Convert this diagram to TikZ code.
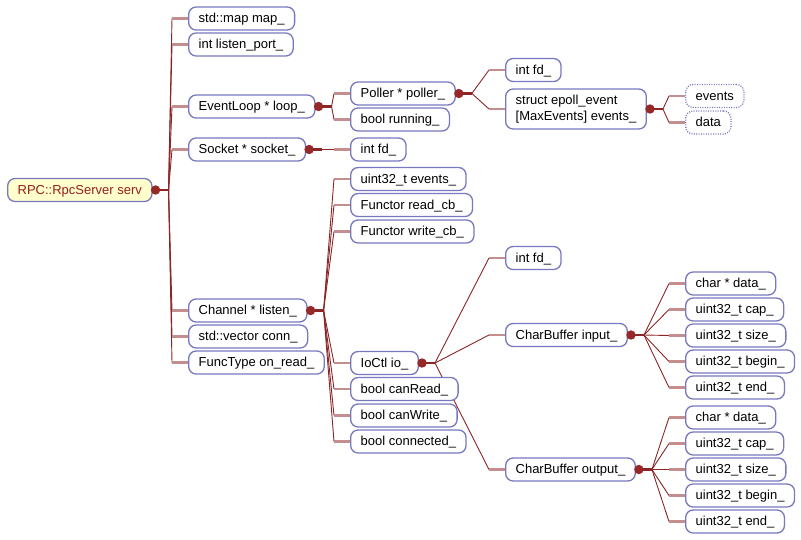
\documentclass[tikz,border=0pt]{standalone}
\usepackage{fontspec}
\setmainfont{Liberation Sans}
\pgfdeclarelayer{back}
\pgfdeclarelayer{bg}
\pgfsetlayers{back,bg,main}
\definecolor{boxc}{RGB}{120,120,192}
\definecolor{darkE}{RGB}{140,38,38}
\definecolor{pinkE}{RGB}{196,142,142}
\definecolor{dotc}{RGB}{150,40,40}
\definecolor{rootfill}{RGB}{255,255,206}
\definecolor{roottext}{RGB}{150,30,30}
\tikzset{
  box/.style={draw=boxc, line width=1.3pt, rounded corners=7.5pt, fill=white, anchor=west,
    minimum height=23pt, inner xsep=10pt, inner ysep=0pt, text=black,
    text height=10.5pt, text depth=2pt,
    font=\fontsize{13}{16}\selectfont},
  twoline/.style={box, text height=, text depth=, align=left, minimum height=40pt},
  rootbox/.style={box, fill=rootfill, text=roottext},
  dotbox/.style={box, dash pattern=on 1pt off 1.4pt},
  thickE/.style={draw=darkE, line width=2.6pt},
  thinE/.style={draw=darkE, line width=0.9pt},
  pinkE/.style={draw=pinkE, line width=2.4pt},
}
\newcommand\mmJunc[2]{%
  \coordinate (#2) at ([xshift=16pt]#1.east);
  \begin{pgfonlayer}{bg}\draw[thickE] ([xshift=3pt]#1.east) -- (#2);\end{pgfonlayer}
  \fill[dotc] ([xshift=3pt]#1.east) circle (4.7pt);}
\newcommand\mmBranch[2]{%
  \begin{pgfonlayer}{bg}
  \draw[thinE] (#1) -- ([xshift=-16pt]#2.west);
  \draw[pinkE] ([xshift=-16pt]#2.west) -- (#2.west);
  \end{pgfonlayer}}
\begin{document}
\begin{tikzpicture}[x=1pt,y=-1pt]
\begin{pgfonlayer}{back}
\fill[white] (0,0) rectangle (801,539);
\end{pgfonlayer}
\useasboundingbox (0,0) rectangle (801,539);
% root
\node[rootbox] (root) at (7,190) {RPC::RpcServer serv};
% level 1
\node[box] (m1) at (188,18.5) {std::map map\_};
\node[box] (m2) at (188,44.5) {int listen\_port\_};
\node[box] (m3) at (188,106.5) {EventLoop * loop\_};
\node[box] (m4) at (188,149.5) {Socket * socket\_};
\node[box] (m5) at (188,310.5) {Channel * listen\_};
\node[box] (m6) at (188,336.5) {std::vector conn\_};
\node[box] (m7) at (188,362.5) {FuncType on\_read\_};
% EventLoop children
\node[box] (el1) at (350,93.5) {Poller * poller\_};
\node[box] (el2) at (350,119.5) {bool running\_};
% Poller children
\node[box] (p1) at (505,70) {int fd\_};
\node[twoline] (p2) at (505,109) {struct epoll\_event\\{}[MaxEvents] events\_};
% epoll_event children
\node[dotbox] (e1) at (685,96) {events};
\node[dotbox] (e2) at (685,122.5) {data};
% Socket children
\node[box] (s1) at (350,149.5) {int fd\_};
% Channel children
\node[box] (c1) at (350,179) {uint32\_t events\_};
\node[box] (c2) at (350,205) {Functor read\_cb\_};
\node[box] (c3) at (350,231.5) {Functor write\_cb\_};
\node[box] (c4) at (350,363) {IoCtl io\_};
\node[box] (c5) at (350,389) {bool canRead\_};
\node[box] (c6) at (350,415.5) {bool canWrite\_};
\node[box] (c7) at (350,441.5) {bool connected\_};
% IoCtl children
\node[box] (io1) at (505,258) {int fd\_};
\node[box] (io2) at (505,335) {CharBuffer input\_};
\node[box] (io3) at (505,469.5) {CharBuffer output\_};
% input children
\node[box] (i1) at (685,283.5) {char * data\_};
\node[box] (i2) at (685,309.5) {uint32\_t cap\_};
\node[box] (i3) at (685,335.5) {uint32\_t size\_};
\node[box] (i4) at (685,361.5) {uint32\_t begin\_};
\node[box] (i5) at (685,387.5) {uint32\_t end\_};
% output children
\node[box] (o1) at (685,417.5) {char * data\_};
\node[box] (o2) at (685,443.5) {uint32\_t cap\_};
\node[box] (o3) at (685,469.5) {uint32\_t size\_};
\node[box] (o4) at (685,495.5) {uint32\_t begin\_};
\node[box] (o5) at (685,521.5) {uint32\_t end\_};
% connectors
\mmJunc{root}{jr}
\foreach \c in {m1,m2,m3,m4,m5,m6,m7} {\mmBranch{jr}{\c}}
\mmJunc{m3}{jm3}
\foreach \c in {el1,el2} {\mmBranch{jm3}{\c}}
\mmJunc{el1}{jp}
\foreach \c in {p1,p2} {\mmBranch{jp}{\c}}
\mmJunc{p2}{jev}
\foreach \c in {e1,e2} {\mmBranch{jev}{\c}}
\mmJunc{m4}{jm4}
\mmBranch{jm4}{s1}
\mmJunc{m5}{jm5}
\foreach \c in {c1,c2,c3,c4,c5,c6,c7} {\mmBranch{jm5}{\c}}
\mmJunc{c4}{jio}
\foreach \c in {io1,io2,io3} {\mmBranch{jio}{\c}}
\mmJunc{io2}{jin}
\foreach \c in {i1,i2,i3,i4,i5} {\mmBranch{jin}{\c}}
\mmJunc{io3}{jout}
\foreach \c in {o1,o2,o3,o4,o5} {\mmBranch{jout}{\c}}
\end{tikzpicture}
\end{document}
